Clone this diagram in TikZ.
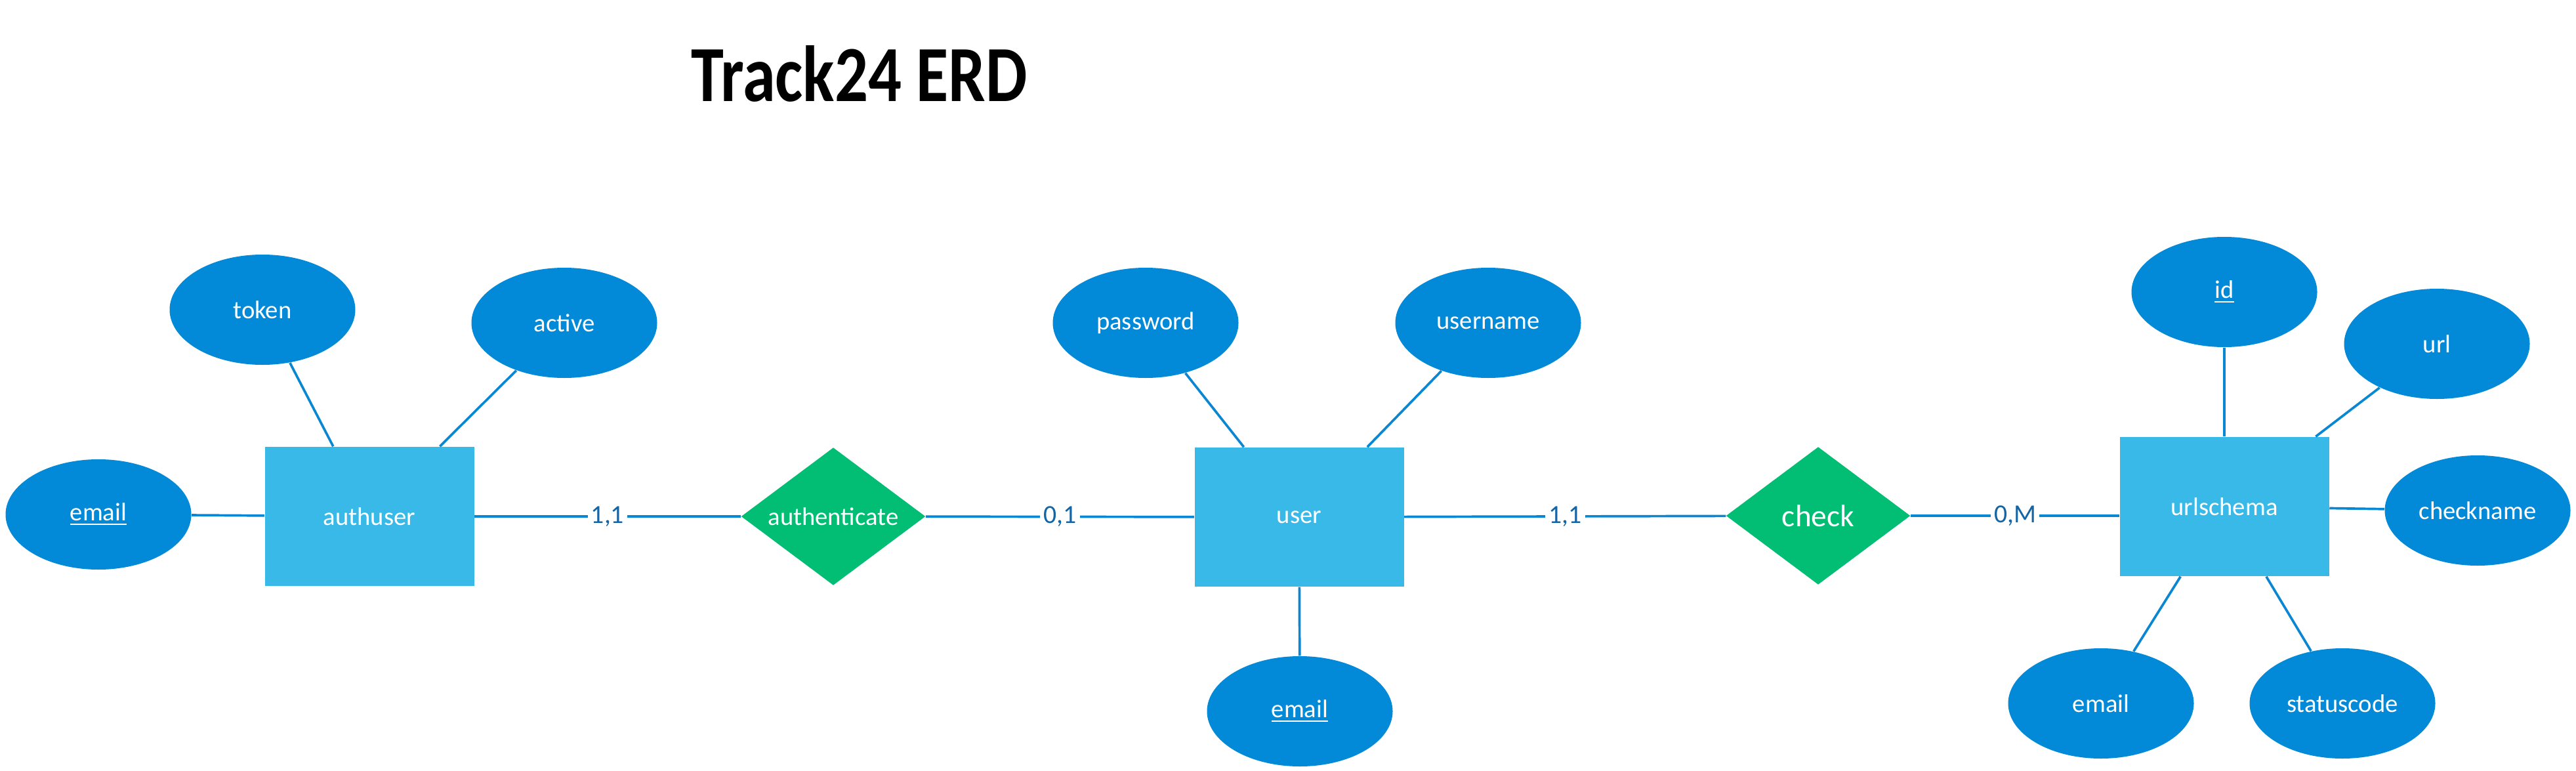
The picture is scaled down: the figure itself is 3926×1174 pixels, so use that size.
\documentclass[tikz,border=0pt]{standalone}
\usepackage{fontspec}
\setmainfont{Carlito}
\newfontfamily\titlefont{Carlito}[FakeStretch=0.83]
\usepackage{xcolor}
\usepackage{tikz}
\usetikzlibrary{shapes.geometric}
\definecolor{attrblue}{HTML}{0289D8}
\definecolor{entblue}{HTML}{38B9E8}
\definecolor{relgreen}{HTML}{02BD74}
\definecolor{linkblue}{HTML}{0A87D3}
\definecolor{cardblue}{HTML}{1565A5}
\tikzset{
  erentity/.style={
    rectangle,
    fill=entblue,
    text=white,
    minimum width=31.9mm,
    minimum height=21.2mm,
    font=\fontsize{11}{13}\selectfont
  },
  erattr/.style={
    ellipse,
    fill=attrblue,
    text=white,
    inner sep=0pt,
    minimum width=28.3mm,
    minimum height=16.8mm,
    font=\fontsize{11}{13}\selectfont
  },
  errel/.style={
    diamond,
    fill=relgreen,
    text=white,
    inner sep=0pt,
    minimum width=28.1mm,
    minimum height=21mm,
    font=\fontsize{11}{13}\selectfont
  },
  erline/.style={
    draw=linkblue,
    line width=1.05pt
  },
  ercard/.style={
    fill=white,
    text=cardblue,
    inner xsep=1.5pt,
    inner ysep=1pt,
    font=\fontsize{11.3}{13}\selectfont
  }
}

\begin{document}
\begin{tikzpicture}[x=0.1mm, y=-0.1mm]
    \useasboundingbox (0,0) rectangle (3926,1174);
    \node[anchor=base, font=\titlefont\bfseries\fontsize{34.5}{40}\selectfont] (title) at (1310,155) {Track24 ERD};

    % entities and relationships
    \node[erentity] (authuser) at (563,787) {authuser};
    \node[errel] (authen) at (1270,787) {\makebox[0pt]{authenticate}};
    \node[erentity] (user) at (1980,788) {user};
    \node[errel, font=\fontsize{13.5}{16}\selectfont] (check) at (2771,786) {\makebox[0pt]{check}};
    \node[erentity] (urlschema) at (3390,772) {urlschema};

    % attributes
    \node[erattr] (auemail) at (150,784) {\underline{email}};
    \node[erattr] (token) at (400,472) {token};
    \node[erattr] (active) at (860,492) {active};
    \node[erattr] (password) at (1746,492) {password};
    \node[erattr] (username) at (2268,492) {username};
    \node[erattr] (usemail) at (1981,1084) {\underline{email}};
    \node[erattr] (id) at (3390,445) {\underline{id}};
    \node[erattr] (url) at (3714,524) {url};
    \node[erattr] (checkname) at (3776,778) {checkname};
    \node[erattr] (urlemail) at (3202,1072) {email};
    \node[erattr] (statuscode) at (3570,1072) {statuscode};

    \draw[erline] (auemail) -- (authuser);
    \draw[erline] (token) -- (authuser);
    \draw[erline] (active) -- (authuser);
    \draw[erline] (password) -- (user);
    \draw[erline] (username) -- (user);
    \draw[erline] (usemail) -- (user);
    \draw[erline] (id) -- (urlschema);
    \draw[erline] (url) -- (urlschema);
    \draw[erline] (checkname) -- (urlschema);
    \draw[erline] (urlemail) -- (urlschema);
    \draw[erline] (statuscode) -- (urlschema);

    \draw[erline] (authuser) -- node[ercard] (card1) {1,1} (authen);
    \draw[erline] (authen) -- node[ercard] (card2) {0,1} (user);
    \draw[erline] (user) -- node[ercard] (card3) {1,1} (check);
    \draw[erline] (check) -- node[ercard] (card4) {0,M} (check -| urlschema.west);
\end{tikzpicture}
\end{document}
